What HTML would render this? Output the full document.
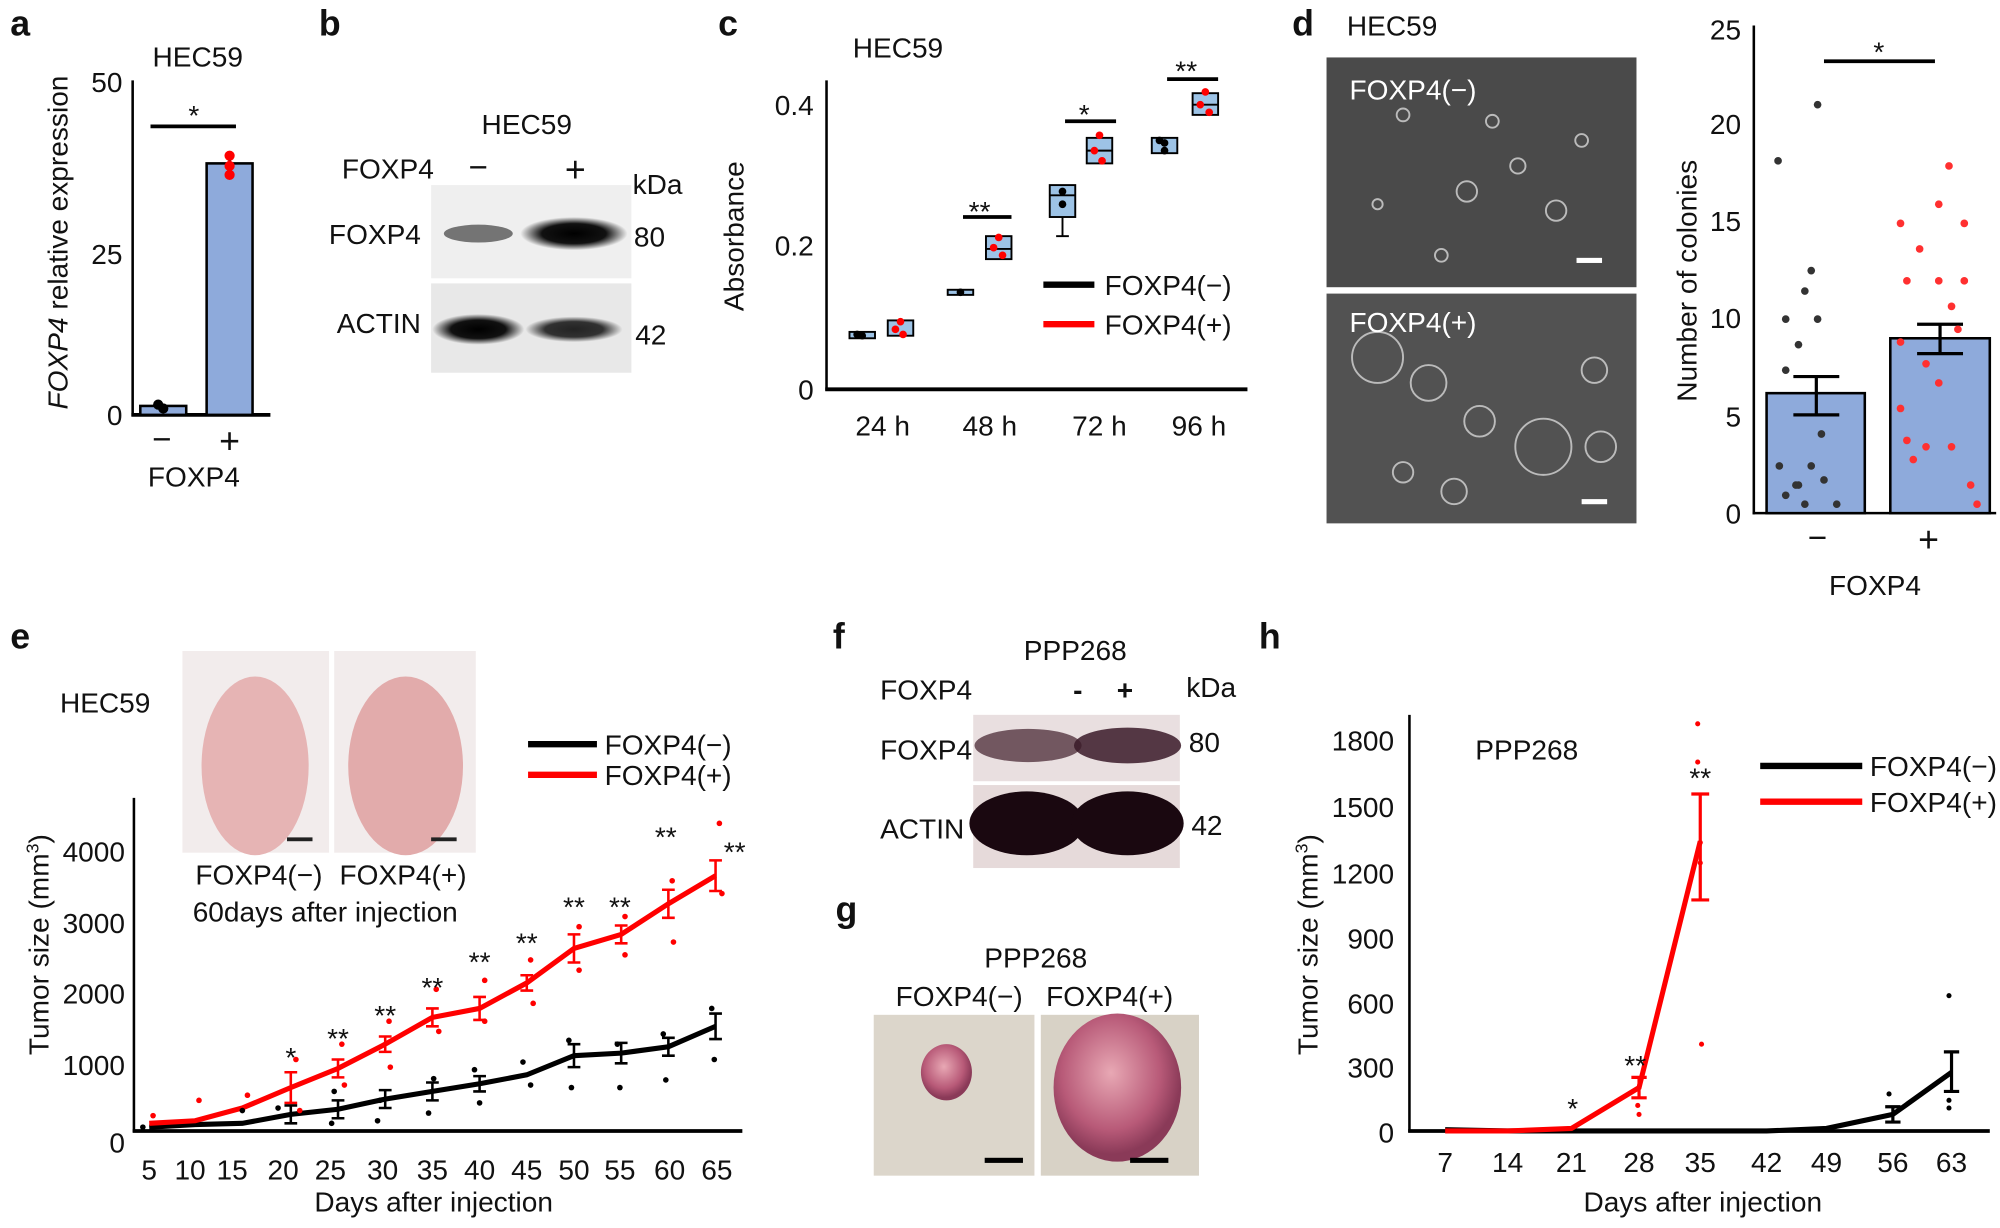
<!DOCTYPE html>
<html><head><meta charset="utf-8"><style>
html,body{margin:0;padding:0;background:#fff;}
svg{display:block;}
text{font-family:"Liberation Sans",sans-serif;fill:#111;}
</style></head><body>
<svg width="2000" height="1228" viewBox="0 0 1568 962" preserveAspectRatio="none" xmlns="http://www.w3.org/2000/svg">
<defs>
<radialGradient id="band" cx="50%" cy="50%" r="50%"><stop offset="0" stop-color="#000"/><stop offset="0.6" stop-color="#111"/><stop offset="1" stop-color="#111" stop-opacity="0"/></radialGradient>
<radialGradient id="tum" cx="45%" cy="40%" r="55%"><stop offset="0" stop-color="#e8a8b4"/><stop offset="0.7" stop-color="#b85a78"/><stop offset="1" stop-color="#8a3a58"/></radialGradient>
</defs>
<g font-size="22">
<g font-weight="bold" font-size="28">
<text x="8" y="28">a</text><text x="250" y="28">b</text><text x="563" y="28">c</text><text x="1013" y="28">d</text>
<text x="8" y="508">e</text><text x="653" y="508">f</text><text x="655" y="722">g</text><text x="987" y="508">h</text></g>

<!-- a -->
<text x="155" y="52" text-anchor="middle">HEC59</text>
<line x1="104" y1="63" x2="104" y2="326" stroke="#000" stroke-width="2"/>
<line x1="103" y1="325" x2="212" y2="325" stroke="#000" stroke-width="3"/>
<text x="96" y="72" text-anchor="end">50</text><text x="96" y="207" text-anchor="end">25</text><text x="96" y="333" text-anchor="end">0</text>
<rect x="110" y="318" width="36" height="7" fill="#8eaadb" stroke="#000" stroke-width="2"/>
<rect x="162" y="128" width="36" height="197" fill="#8eaadb" stroke="#000" stroke-width="2"/>
<line x1="180" y1="120" x2="180" y2="136" stroke="#000" stroke-width="2"/>
<circle cx="180" cy="122" r="4" fill="red"/><circle cx="180" cy="130" r="4" fill="red"/><circle cx="180" cy="137" r="4" fill="red"/>
<circle cx="124" cy="317" r="4" fill="#000"/><circle cx="128" cy="320" r="4" fill="#000"/>
<line x1="118" y1="99" x2="185" y2="99" stroke="#000" stroke-width="3"/><text x="152" y="98" text-anchor="middle">*</text>
<text x="127" y="353" text-anchor="middle" font-size="26">−</text><text x="180" y="355" text-anchor="middle" font-size="28">+</text>
<text x="152" y="381" text-anchor="middle">FOXP4</text>
<text transform="translate(53,190) rotate(-90)" text-anchor="middle"><tspan font-style="italic">FOXP4</tspan> relative expression</text>

<!-- b -->
<text x="413" y="105" text-anchor="middle">HEC59</text>
<text x="268" y="140">FOXP4</text><text x="375" y="140" text-anchor="middle" font-size="26">−</text><text x="451" y="142" text-anchor="middle" font-size="28">+</text>
<text x="496" y="152">kDa</text>
<rect x="338" y="145" width="157" height="73" fill="#efefef"/>
<ellipse cx="375" cy="183" rx="27" ry="7" fill="#555" opacity="0.8"/>
<ellipse cx="450" cy="183" rx="42" ry="13" fill="url(#band)"/>
<rect x="338" y="222" width="157" height="70" fill="#e8e8e8"/>
<ellipse cx="375" cy="258" rx="36" ry="12" fill="url(#band)"/>
<ellipse cx="450" cy="258" rx="38" ry="10" fill="url(#band)" opacity="0.85"/>
<text x="330" y="191" text-anchor="end">FOXP4</text><text x="497" y="193">80</text>
<text x="330" y="261" text-anchor="end">ACTIN</text><text x="498" y="270">42</text>

<!-- c -->
<text x="704" y="45" text-anchor="middle">HEC59</text>
<line x1="648" y1="63" x2="648" y2="306" stroke="#000" stroke-width="2"/>
<line x1="647" y1="305" x2="978" y2="305" stroke="#000" stroke-width="3"/>
<text x="638" y="90" text-anchor="end">0.4</text><text x="638" y="200" text-anchor="end">0.2</text><text x="638" y="313" text-anchor="end">0</text>
<text transform="translate(583,185) rotate(-90)" text-anchor="middle">Absorbance</text>
<text x="692" y="341" text-anchor="middle">24 h</text><text x="776" y="341" text-anchor="middle">48 h</text><text x="862" y="341" text-anchor="middle">72 h</text><text x="940" y="341" text-anchor="middle">96 h</text>
<g stroke="#000" stroke-width="1.5" fill="#9dc3e6">
<rect x="666" y="260" width="20" height="5"/><rect x="696" y="251" width="20" height="12"/>
<rect x="743" y="227" width="20" height="4"/><rect x="773" y="185" width="20" height="18"/>
<line x1="833" y1="170" x2="833" y2="185"/><rect x="823" y="145" width="20" height="25"/><line x1="828" y1="185" x2="838" y2="185"/>
<rect x="852" y="108" width="20" height="20"/>
<rect x="903" y="108" width="20" height="12"/><rect x="935" y="73" width="20" height="17"/>
<line x1="823" y1="153" x2="843" y2="153"/><line x1="852" y1="118" x2="872" y2="118"/><line x1="935" y1="82" x2="955" y2="82"/><line x1="773" y1="195" x2="793" y2="195"/></g>
<g fill="#000"><circle cx="676" cy="263" r="3"/><circle cx="672" cy="262" r="3"/><circle cx="753" cy="229" r="3"/><circle cx="833" cy="150" r="3"/><circle cx="833" cy="160" r="3"/><circle cx="913" cy="112" r="3"/><circle cx="913" cy="118" r="3"/><circle cx="909" cy="110" r="3"/></g>
<g fill="red"><circle cx="706" cy="252" r="3"/><circle cx="702" cy="258" r="3"/><circle cx="708" cy="262" r="3"/><circle cx="783" cy="186" r="3"/><circle cx="779" cy="194" r="3"/><circle cx="786" cy="200" r="3"/><circle cx="862" cy="106" r="3"/><circle cx="858" cy="118" r="3"/><circle cx="864" cy="126" r="3"/><circle cx="945" cy="72" r="3"/><circle cx="941" cy="82" r="3"/><circle cx="948" cy="88" r="3"/></g>
<line x1="755" y1="170" x2="793" y2="170" stroke="#000" stroke-width="3"/><text x="768" y="173" text-anchor="middle">**</text>
<line x1="835" y1="95" x2="875" y2="95" stroke="#000" stroke-width="3"/><text x="850" y="97" text-anchor="middle">*</text>
<line x1="915" y1="62" x2="955" y2="62" stroke="#000" stroke-width="3"/><text x="930" y="63" text-anchor="middle">**</text>
<line x1="818" y1="223" x2="858" y2="223" stroke="#000" stroke-width="5"/><text x="866" y="231">FOXP4(−)</text>
<line x1="818" y1="254" x2="858" y2="254" stroke="red" stroke-width="5"/><text x="866" y="262">FOXP4(+)</text>

<!-- d -->
<text x="1056" y="28">HEC59</text>
<rect x="1040" y="45" width="243" height="180" fill="#4a4a4a"/>
<rect x="1040" y="230" width="243" height="180" fill="#525252"/>
<g fill="none" stroke="#bbb" stroke-width="1.5">
<circle cx="1100" cy="90" r="5"/><circle cx="1150" cy="150" r="8"/><circle cx="1190" cy="130" r="6"/><circle cx="1220" cy="165" r="8"/><circle cx="1080" cy="160" r="4"/><circle cx="1240" cy="110" r="5"/><circle cx="1130" cy="200" r="5"/><circle cx="1170" cy="95" r="5"/>
<circle cx="1120" cy="300" r="14"/><circle cx="1210" cy="350" r="22"/><circle cx="1160" cy="330" r="12"/><circle cx="1250" cy="290" r="10"/><circle cx="1080" cy="280" r="20"/><circle cx="1140" cy="385" r="10"/><circle cx="1255" cy="350" r="12"/><circle cx="1100" cy="370" r="8"/></g>
<text x="1058" y="78" style="fill:#fff">FOXP4(−)</text>
<text x="1058" y="260" style="fill:#fff">FOXP4(+)</text>
<rect x="1236" y="202" width="20" height="4" fill="#fff"/><rect x="1240" y="391" width="20" height="4" fill="#fff"/>
<line x1="1375" y1="20" x2="1375" y2="403" stroke="#000" stroke-width="2"/>
<line x1="1374" y1="402" x2="1565" y2="402" stroke="#000" stroke-width="2"/>
<text x="1365" y="31" text-anchor="end">25</text><text x="1365" y="105" text-anchor="end">20</text><text x="1365" y="181" text-anchor="end">15</text><text x="1365" y="257" text-anchor="end">10</text><text x="1365" y="334" text-anchor="end">5</text><text x="1365" y="410" text-anchor="end">0</text>
<text transform="translate(1330,220) rotate(-90)" text-anchor="middle">Number of colonies</text>
<rect x="1385" y="308" width="77" height="94" fill="#8eaadb" stroke="#000" stroke-width="2"/>
<rect x="1482" y="265" width="78" height="137" fill="#8eaadb" stroke="#000" stroke-width="2"/>
<g stroke="#000" stroke-width="2.5"><line x1="1424" y1="295" x2="1424" y2="325"/><line x1="1406" y1="295" x2="1442" y2="295"/><line x1="1406" y1="325" x2="1442" y2="325"/>
<line x1="1521" y1="254" x2="1521" y2="277"/><line x1="1503" y1="254" x2="1539" y2="254"/><line x1="1503" y1="277" x2="1539" y2="277"/></g>
<g fill="#333"><circle cx="1394" cy="126" r="3"/><circle cx="1420" cy="212" r="3"/><circle cx="1415" cy="228" r="3"/><circle cx="1400" cy="250" r="3"/><circle cx="1425" cy="250" r="3"/><circle cx="1410" cy="270" r="3"/><circle cx="1400" cy="290" r="3"/><circle cx="1428" cy="340" r="3"/><circle cx="1395" cy="365" r="3"/><circle cx="1420" cy="365" r="3"/><circle cx="1410" cy="380" r="3"/><circle cx="1430" cy="376" r="3"/><circle cx="1400" cy="388" r="3"/><circle cx="1415" cy="395" r="3"/><circle cx="1440" cy="395" r="3"/><circle cx="1425" cy="82" r="3"/><circle cx="1408" cy="380" r="3"/></g>
<g fill="#ff3030"><circle cx="1528" cy="130" r="3"/><circle cx="1520" cy="160" r="3"/><circle cx="1490" cy="175" r="3"/><circle cx="1540" cy="175" r="3"/><circle cx="1505" cy="195" r="3"/><circle cx="1495" cy="220" r="3"/><circle cx="1520" cy="220" r="3"/><circle cx="1540" cy="220" r="3"/><circle cx="1530" cy="240" r="3"/><circle cx="1535" cy="258" r="3"/><circle cx="1490" cy="268" r="3"/><circle cx="1510" cy="285" r="3"/><circle cx="1490" cy="320" r="3"/><circle cx="1520" cy="300" r="3"/><circle cx="1495" cy="345" r="3"/><circle cx="1510" cy="350" r="3"/><circle cx="1530" cy="350" r="3"/><circle cx="1545" cy="380" r="3"/><circle cx="1550" cy="395" r="3"/><circle cx="1500" cy="360" r="3"/></g>
<line x1="1430" y1="48" x2="1517" y2="48" stroke="#000" stroke-width="3"/><text x="1473" y="48" text-anchor="middle">*</text>
<text x="1425" y="430" text-anchor="middle" font-size="26">−</text><text x="1512" y="432" text-anchor="middle" font-size="28">+</text>
<text x="1470" y="466" text-anchor="middle">FOXP4</text>

<!-- e -->
<text x="47" y="558">HEC59</text>
<rect x="143" y="510" width="115" height="158" fill="#f2ecec"/>
<rect x="262" y="510" width="111" height="158" fill="#f2ecec"/>
<ellipse cx="200" cy="600" rx="42" ry="70" fill="#e6b4b4"/><ellipse cx="318" cy="600" rx="45" ry="70" fill="#e2abab"/>
<rect x="225" y="656" width="20" height="3" fill="#222"/><rect x="338" y="656" width="20" height="3" fill="#222"/>
<text x="203" y="693" text-anchor="middle">FOXP4(−)</text><text x="316" y="693" text-anchor="middle">FOXP4(+)</text>
<text x="255" y="722" text-anchor="middle">60days after injection</text>
<line x1="414" y1="583" x2="468" y2="583" stroke="#000" stroke-width="5"/><text x="474" y="591">FOXP4(−)</text>
<line x1="414" y1="607" x2="468" y2="607" stroke="red" stroke-width="5"/><text x="474" y="615">FOXP4(+)</text>
<line x1="105" y1="625" x2="105" y2="887" stroke="#000" stroke-width="2"/>
<line x1="104" y1="886" x2="582" y2="886" stroke="#000" stroke-width="3"/>
<text x="98" y="675" text-anchor="end">4000</text><text x="98" y="731" text-anchor="end">3000</text><text x="98" y="786" text-anchor="end">2000</text><text x="98" y="842" text-anchor="end">1000</text><text x="98" y="903" text-anchor="end">0</text>
<text transform="translate(38,740) rotate(-90)" text-anchor="middle">Tumor size (mm<tspan font-size="14" dy="-8">3</tspan><tspan dy="8">)</tspan></text>
<g text-anchor="middle"><text x="117" y="924">5</text><text x="149" y="924">10</text><text x="182" y="924">15</text><text x="222" y="924">20</text><text x="259" y="924">25</text><text x="300" y="924">30</text><text x="339" y="924">35</text><text x="376" y="924">40</text><text x="413" y="924">45</text><text x="450" y="924">50</text><text x="486" y="924">55</text><text x="525" y="924">60</text><text x="562" y="924">65</text></g>
<text x="340" y="949" text-anchor="middle">Days after injection</text>
<polyline fill="none" stroke="#000" stroke-width="4" points="117,883 153,881 190,880 228,873 265,869 302,861 339,855 376,849 413,842 450,827 487,825 524,820 561,804"/>
<polyline fill="none" stroke="red" stroke-width="4" points="117,880 153,878 190,868 228,852 265,837 302,818 339,797 376,790 413,770 450,743 487,732 524,708 561,686"/>
<g stroke="#000" stroke-width="2"><path d="M228,866v14M223,866h10M223,880h10M265,862v14M260,862h10M260,876h10M302,854v14M297,854h10M297,868h10M339,848v14M334,848h10M334,862h10M376,843v12M371,843h10M371,855h10M450,818v18M445,818h10M445,836h10M487,817v16M482,817h10M482,833h10M524,813v14M519,813h10M519,827h10M561,794v20M556,794h10M556,814h10"/></g>
<g stroke="red" stroke-width="2"><path d="M228,840v24M223,840h10M223,864h10M265,830v14M260,830h10M260,844h10M302,812v12M297,812h10M297,824h10M339,790v14M334,790h10M334,804h10M376,781v18M371,781h10M371,799h10M413,764v12M408,764h10M408,776h10M450,732v22M445,732h10M445,754h10M487,725v14M482,725h10M482,739h10M524,697v22M519,697h10M519,719h10M561,674v24M556,674h10M556,698h10"/></g>
<g fill="#000"><circle cx="112" cy="883" r="2.2"/><circle cx="190" cy="870" r="2.2"/><circle cx="218" cy="868" r="2.2"/><circle cx="262" cy="855" r="2.2"/><circle cx="260" cy="880" r="2.2"/><circle cx="298" cy="862" r="2.2"/><circle cx="296" cy="878" r="2.2"/><circle cx="340" cy="845" r="2.2"/><circle cx="336" cy="872" r="2.2"/><circle cx="372" cy="838" r="2.2"/><circle cx="376" cy="864" r="2.2"/><circle cx="410" cy="832" r="2.2"/><circle cx="416" cy="850" r="2.2"/><circle cx="446" cy="815" r="2.2"/><circle cx="448" cy="852" r="2.2"/><circle cx="484" cy="818" r="2.2"/><circle cx="486" cy="852" r="2.2"/><circle cx="520" cy="810" r="2.2"/><circle cx="522" cy="846" r="2.2"/><circle cx="558" cy="790" r="2.2"/><circle cx="560" cy="830" r="2.2"/></g>
<g fill="red"><circle cx="120" cy="874" r="2.2"/><circle cx="156" cy="862" r="2.2"/><circle cx="194" cy="858" r="2.2"/><circle cx="232" cy="830" r="2.2"/><circle cx="235" cy="870" r="2.2"/><circle cx="268" cy="818" r="2.2"/><circle cx="270" cy="850" r="2.2"/><circle cx="305" cy="800" r="2.2"/><circle cx="306" cy="836" r="2.2"/><circle cx="342" cy="775" r="2.2"/><circle cx="344" cy="808" r="2.2"/><circle cx="380" cy="768" r="2.2"/><circle cx="380" cy="800" r="2.2"/><circle cx="416" cy="752" r="2.2"/><circle cx="418" cy="786" r="2.2"/><circle cx="454" cy="726" r="2.2"/><circle cx="454" cy="760" r="2.2"/><circle cx="490" cy="718" r="2.2"/><circle cx="490" cy="748" r="2.2"/><circle cx="527" cy="690" r="2.2"/><circle cx="528" cy="738" r="2.2"/><circle cx="564" cy="645" r="2.2"/><circle cx="566" cy="700" r="2.2"/></g>
<g text-anchor="middle"><text x="228" y="836">*</text><text x="265" y="821">**</text><text x="302" y="803">**</text><text x="339" y="781">**</text><text x="376" y="761">**</text><text x="413" y="746">**</text><text x="450" y="718">**</text><text x="486" y="718">**</text><text x="522" y="663">**</text><text x="576" y="675">**</text></g>

<!-- f -->
<text x="843" y="517" text-anchor="middle">PPP268</text>
<text x="690" y="548">FOXP4</text><text x="845" y="548" text-anchor="middle" font-weight="bold">-</text><text x="882" y="548" text-anchor="middle" font-weight="bold">+</text><text x="930" y="546">kDa</text>
<rect x="763" y="560" width="162" height="52" fill="#e9dfe0"/>
<ellipse cx="806" cy="584" rx="42" ry="13" fill="#4a2a35" opacity="0.75"/><ellipse cx="884" cy="584" rx="42" ry="14" fill="#3a1a28" opacity="0.85"/>
<rect x="763" y="615" width="162" height="65" fill="#e6dada"/>
<ellipse cx="805" cy="645" rx="45" ry="25" fill="#1a0810"/><ellipse cx="884" cy="645" rx="44" ry="25" fill="#1a0810"/>
<text x="690" y="595">FOXP4</text><text x="932" y="589">80</text>
<text x="690" y="657">ACTIN</text><text x="934" y="654">42</text>

<!-- g -->
<text x="812" y="758" text-anchor="middle">PPP268</text>
<text x="752" y="788" text-anchor="middle">FOXP4(−)</text><text x="870" y="788" text-anchor="middle">FOXP4(+)</text>
<rect x="685" y="795" width="126" height="126" fill="#dcd6cb"/>
<rect x="816" y="795" width="124" height="126" fill="#d8d2c6"/>
<ellipse cx="742" cy="840" rx="20" ry="22" fill="url(#tum)"/>
<ellipse cx="876" cy="852" rx="50" ry="58" fill="url(#tum)"/>
<rect x="772" y="907" width="30" height="4" fill="#000"/><rect x="886" y="907" width="30" height="4" fill="#000"/>

<!-- h -->
<line x1="1105" y1="560" x2="1105" y2="887" stroke="#000" stroke-width="2"/>
<line x1="1104" y1="886" x2="1560" y2="886" stroke="#000" stroke-width="3"/>
<g text-anchor="end"><text x="1093" y="588">1800</text><text x="1093" y="640">1500</text><text x="1093" y="692">1200</text><text x="1093" y="743">900</text><text x="1093" y="794">600</text><text x="1093" y="844">300</text><text x="1093" y="895">0</text></g>
<text transform="translate(1033,740) rotate(-90)" text-anchor="middle">Tumor size (mm<tspan font-size="14" dy="-8">3</tspan><tspan dy="8">)</tspan></text>
<text x="1197" y="595" text-anchor="middle">PPP268</text>
<g text-anchor="middle"><text x="1133" y="918">7</text><text x="1182" y="918">14</text><text x="1232" y="918">21</text><text x="1285" y="918">28</text><text x="1333" y="918">35</text><text x="1385" y="918">42</text><text x="1432" y="918">49</text><text x="1484" y="918">56</text><text x="1530" y="918">63</text></g>
<text x="1335" y="949" text-anchor="middle">Days after injection</text>
<line x1="1380" y1="600" x2="1460" y2="600" stroke="#000" stroke-width="5"/><text x="1466" y="608">FOXP4(−)</text>
<line x1="1380" y1="628" x2="1460" y2="628" stroke="red" stroke-width="5"/><text x="1466" y="636">FOXP4(+)</text>
<polyline fill="none" stroke="#000" stroke-width="4" points="1133,885 1182,886 1232,886 1285,886 1333,886 1385,886 1432,884 1484,873 1530,840"/>
<polyline fill="none" stroke="red" stroke-width="4" points="1133,886 1182,886 1232,884 1285,852 1333,659"/>
<g stroke="red" stroke-width="2.5"><path d="M1333,622v83M1326,622h14M1326,705h14M1285,844v16M1279,844h12M1279,860h12"/></g>
<g stroke="#000" stroke-width="2.5"><path d="M1484,867v12M1478,867h12M1478,879h12M1530,824v31M1524,824h12M1524,855h12"/></g>
<g fill="red"><circle cx="1331" cy="567" r="2"/><circle cx="1331" cy="597" r="2"/><circle cx="1333" cy="660" r="2"/><circle cx="1333" cy="676" r="2"/><circle cx="1334" cy="818" r="2"/><circle cx="1284" cy="866" r="2"/><circle cx="1285" cy="873" r="2"/></g>
<g fill="#000"><circle cx="1528" cy="780" r="2"/><circle cx="1528" cy="862" r="2"/><circle cx="1528" cy="868" r="2"/><circle cx="1481" cy="857" r="2"/></g>
<text x="1233" y="876" text-anchor="middle">*</text><text x="1282" y="842" text-anchor="middle">**</text><text x="1333" y="617" text-anchor="middle">**</text>
</g>
</svg>
</body></html>
